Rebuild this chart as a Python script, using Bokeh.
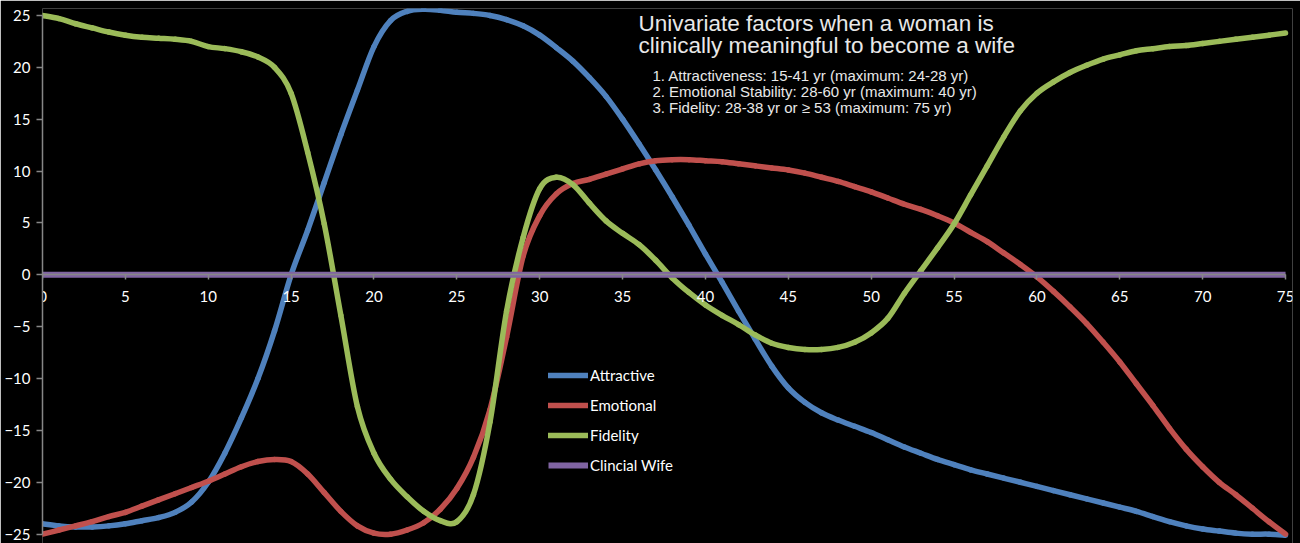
from bokeh.plotting import figure
from bokeh.models import Range1d, Legend, LegendItem, Label, FixedTicker, ColumnDataSource
from bokeh.embed import file_html
from bokeh.resources import INLINE

ages = list(range(0, 76))

attractive = [
    -24.0, -24.2, -24.3, -24.3, -24.2, -24.0, -23.7, -23.4, -22.9, -21.9,
    -20.0, -17.2, -13.8, -10.0, -5.4, 0.0, 4.3, 8.9, 13.5, 17.8,
    22.0, 24.5, 25.4, 25.6, 25.5, 25.3, 25.2, 25.0, 24.6, 24.0,
    23.1, 21.9, 20.6, 19.0, 17.2, 15.0, 12.6, 10.1, 7.5, 4.8,
    2.0, -0.7, -3.5, -6.2, -8.8, -10.9, -12.3, -13.3, -14.0, -14.6,
    -15.2, -15.9, -16.6, -17.2, -17.8, -18.3, -18.8, -19.2, -19.6, -20.0,
    -20.4, -20.8, -21.2, -21.6, -22.0, -22.4, -22.8, -23.3, -23.8, -24.2,
    -24.5, -24.7, -24.9, -25.0, -25.0, -25.1,
]

emotional = [
    -25.0, -24.6, -24.2, -23.8, -23.3, -22.9, -22.3, -21.7, -21.1, -20.5,
    -19.9, -19.2, -18.5, -18.0, -17.8, -18.0, -19.2, -21.0, -22.8, -24.2,
    -24.9, -25.0, -24.6, -23.9, -22.6, -20.6, -17.6, -13.0, -6.0, 1.8,
    5.7, 7.8, 8.8, 9.2, 9.7, 10.2, 10.7, 11.0, 11.1, 11.1,
    11.0, 10.9, 10.7, 10.5, 10.3, 10.1, 9.8, 9.4, 9.0, 8.5,
    8.0, 7.4, 6.8, 6.3, 5.7, 5.0, 4.1, 3.2, 2.1, 1.0,
    -0.2, -1.6, -3.1, -4.7, -6.5, -8.4, -10.5, -12.6, -14.8, -16.8,
    -18.5, -20.0, -21.2, -22.5, -23.8, -25.0,
]

fidelity = [
    25.0, 24.7, 24.2, 23.8, 23.4, 23.1, 22.9, 22.8, 22.7, 22.5,
    22.0, 21.8, 21.5, 21.0, 20.0, 17.5, 11.8, 4.9, -3.9, -12.7,
    -17.2, -19.7, -21.4, -22.8, -23.7, -23.8, -21.2, -14.2, -3.5, 3.6,
    8.3, 9.4, 8.7, 6.9, 5.2, 4.0, 2.9, 1.4, -0.3, -1.7,
    -2.9, -3.9, -4.8, -5.8, -6.6, -7.0, -7.2, -7.2, -7.0, -6.5,
    -5.6, -4.2, -1.8, 0.4, 2.6, 4.9, 7.7, 10.5, 13.3, 15.8,
    17.5, 18.6, 19.5, 20.2, 20.8, 21.2, 21.6, 21.8, 22.0, 22.1,
    22.3, 22.5, 22.7, 22.9, 23.1, 23.3,
]

clinical_wife = [
    0, 0, 0, 0, 0, 0, 0, 0, 0, 0,
    0, 0, 0, 0, 0, 0, 0, 0, 0, 0,
    0, 0, 0, 0, 0, 0, 0, 0, 0, 0,
    0, 0, 0, 0, 0, 0, 0, 0, 0, 0,
    0, 0, 0, 0, 0, 0, 0, 0, 0, 0,
    0, 0, 0, 0, 0, 0, 0, 0, 0, 0,
    0, 0, 0, 0, 0, 0, 0, 0, 0, 0,
    0, 0, 0, 0, 0, 0,
]

series_names = ["Attractive", "Emotional", "Fidelity", "Clincial Wife"]
series_colors = ["#4F81BD", "#C0504D", "#9BBB59", "#8064A2"]

x_ticks = [0, 5, 10, 15, 20, 25, 30, 35, 40, 45, 50, 55, 60, 65, 70, 75]
y_ticks = [-25, -20, -15, -10, -5, 0, 5, 10, 15, 20, 25]

title_lines = [
    "Univariate factors when a woman is",
    "clinically meaningful to become a wife",
]
note_lines = [
    "1. Attractiveness: 15-41 yr (maximum: 24-28 yr)",
    "2. Emotional Stability: 28-60 yr (maximum: 40 yr)",
    "3. Fidelity: 28-38 yr or \u2265 53 (maximum: 75 yr)",
]


def smooth_source(xs, ys, t=1.0 / 6.0):
    """Excel-style smoothed line: one cubic Bezier segment between each pair
    of consecutive data points (Catmull-Rom control points)."""
    n = len(xs)
    d = {k: [] for k in ("x0", "y0", "x1", "y1", "cx0", "cy0", "cx1", "cy1")}
    for i in range(n - 1):
        x0, y0 = xs[i], ys[i]
        x1, y1 = xs[i + 1], ys[i + 1]
        xp, yp = (xs[i - 1], ys[i - 1]) if i > 0 else (x0, y0)
        xn, yn = (xs[i + 2], ys[i + 2]) if i + 2 < n else (x1, y1)
        d["x0"].append(x0); d["y0"].append(y0)
        d["x1"].append(x1); d["y1"].append(y1)
        d["cx0"].append(x0 + (x1 - xp) * t); d["cy0"].append(y0 + (y1 - yp) * t)
        d["cx1"].append(x1 - (xn - x0) * t); d["cy1"].append(y1 - (yn - y0) * t)
    return ColumnDataSource(d)


p = figure(
    width=1300, height=543,
    x_range=Range1d(0, 75.42), y_range=Range1d(-25.9, 25.67),
    output_backend="svg", toolbar_location=None,
    min_border_left=42, min_border_right=8, min_border_top=8, min_border_bottom=0,
    background_fill_color="black", border_fill_color="black",
    outline_line_color=None,
)
p.xgrid.visible = False
p.ygrid.visible = False

axis_gray = "#878787"
for ax in (p.xaxis[0], p.yaxis[0]):
    ax.axis_line_color = axis_gray
    ax.axis_line_width = 1.5
    ax.major_tick_line_color = axis_gray
    ax.major_tick_line_width = 1.5
    ax.major_tick_in = 0
    ax.minor_tick_line_color = None
    ax.major_label_text_color = "white"
    ax.major_label_text_font = "Lato"
    ax.major_label_text_font_size = "15px"

p.xaxis.fixed_location = 0
p.xaxis.bounds = (0, 75)
p.xaxis.ticker = FixedTicker(ticks=x_ticks)
p.xaxis.major_tick_out = 5
p.xaxis.major_label_standoff = 11

p.yaxis.bounds = (-25, 25)
p.yaxis.ticker = FixedTicker(ticks=y_ticks)
p.yaxis.major_tick_out = 6
p.yaxis.major_label_standoff = 6

series = [attractive, emotional, fidelity, clinical_wife]
items = []
for name, vals, col in zip(series_names, series, series_colors):
    if name == "Clincial Wife":
        r = p.line(ages, vals, line_color=col, line_width=6, line_cap="butt")
    else:
        r = p.bezier(x0="x0", y0="y0", x1="x1", y1="y1",
                     cx0="cx0", cy0="cy0", cx1="cx1", cy1="cy1",
                     source=smooth_source(ages, vals),
                     line_color=col, line_width=5.5, line_cap="round")
    items.append(LegendItem(label=name, renderers=[r]))

legend = Legend(
    items=items, location=(506, 68),
    background_fill_alpha=0, border_line_color=None,
    label_text_color="white", label_text_font="Lato", label_text_font_size="15px",
    glyph_width=40, glyph_height=20, label_height=20, label_standoff=2,
    spacing=10, padding=0, margin=0,
)
p.add_layout(legend, "center")

title_y = [24.25, 22.07]
for txt, yy in zip(title_lines, title_y):
    p.add_layout(Label(x=35.96, y=yy, text=txt, text_color="#e8e8e8",
                       text_font="Liberation Sans", text_font_size="22.5px",
                       text_baseline="alphabetic"))

note_y = [19.18, 17.64, 16.17]
for txt, yy in zip(note_lines, note_y):
    p.add_layout(Label(x=36.8, y=yy, text=txt, text_color="#e8e8e8",
                       text_font="Liberation Sans", text_font_size="15px",
                       text_baseline="alphabetic"))

open("out.html", "w").write(file_html(p, INLINE))
